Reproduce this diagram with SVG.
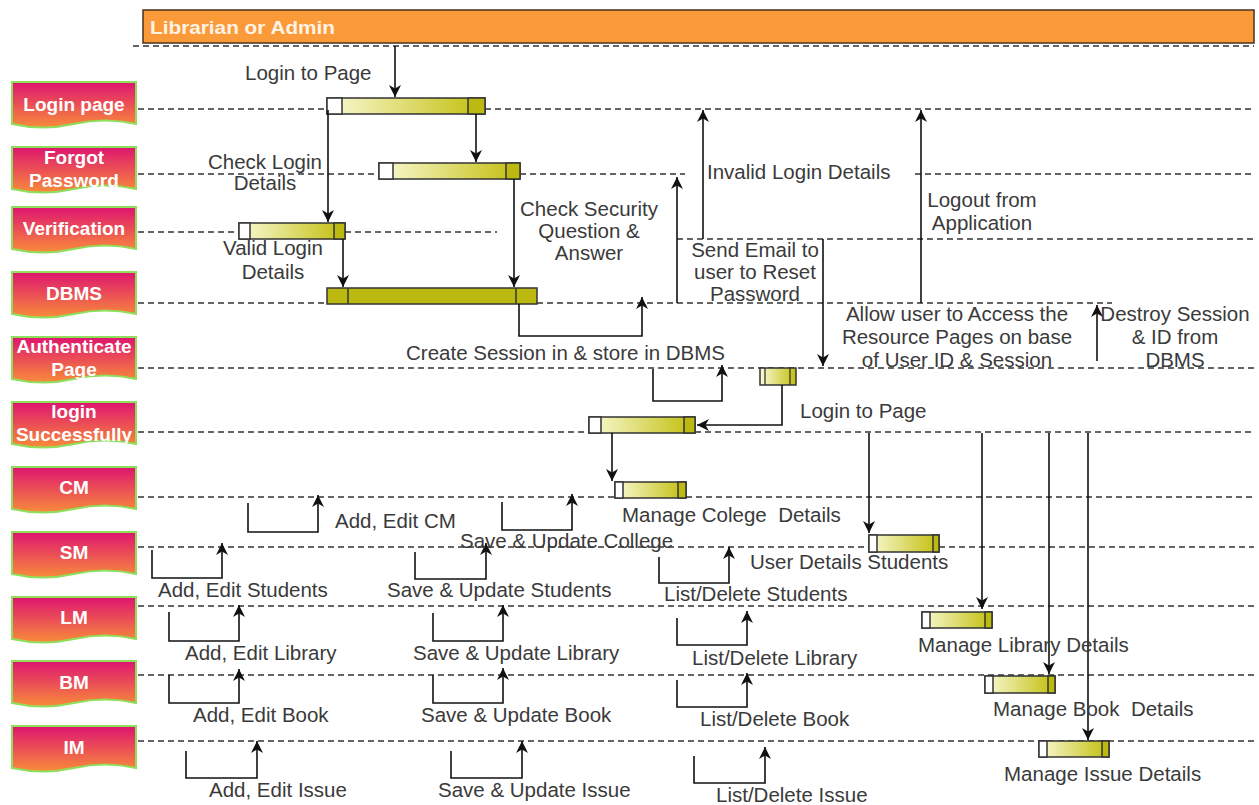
<svg xmlns="http://www.w3.org/2000/svg" width="1259" height="805" viewBox="0 0 1259 805">
<defs>
<linearGradient id="nodeGrad" x1="0" y1="0" x2="0" y2="1">
<stop offset="0" stop-color="#DE1470"/>
<stop offset="1" stop-color="#F88C3A"/>
</linearGradient>
<linearGradient id="barGrad" x1="0" y1="0" x2="1" y2="0">
<stop offset="0" stop-color="#FAFAD6"/>
<stop offset="1" stop-color="#C2BE0C"/>
</linearGradient>
<marker id="arr" viewBox="0 0 10 10" refX="10" refY="5" markerWidth="13" markerHeight="12" markerUnits="userSpaceOnUse" orient="auto">
<path d="M0,0 L10,5 L0,10 L3,5 z" fill="#111"/>
</marker>
<path id="doc" d="M0,0 H124 V42 Q93,35 62,42 Q31,49 0,42 Z"/>
</defs>
<style>
.life{stroke:#333;stroke-width:1.3;stroke-dasharray:6 4;fill:none}
.con{stroke:#111;stroke-width:1.6;fill:none;marker-end:url(#arr)}
.lbl{font-family:"Liberation Sans",Arial,sans-serif;font-size:20.5px;fill:#3a3a3a;white-space:pre}
.mid{text-anchor:middle}
.node{fill:url(#nodeGrad);stroke:#8EE05C;stroke-width:2}
.ntxt{font-family:"Liberation Sans",Arial,sans-serif;font-size:19px;font-weight:bold;fill:#fff;text-anchor:middle}
.bar{fill:url(#barGrad);stroke:#333;stroke-width:1.5}
.bw{fill:#fff;stroke:#333;stroke-width:1.5}
.bd{fill:#BCBA10;stroke:#333;stroke-width:1.5}
</style>
<rect width="1259" height="805" fill="#fff"/>

<g id="header">
<rect x="143" y="10" width="1111" height="33" fill="#FA9A38" stroke="#4a3020" stroke-width="1.5"/>
<text x="150" y="34" font-family="Liberation Sans,Arial,sans-serif" font-size="18" font-weight="bold" fill="#FFF3E6" textLength="185" lengthAdjust="spacingAndGlyphs">Librarian or Admin</text>
</g>

<g id="lifelines">
<path class="life" d="M133,46 H1254"/>
<path class="life" d="M138,109 H327 M485,109 H1254"/>
<path class="life" d="M138,174 H378 M520,174 H685 M915,174 H1254"/>
<path class="life" d="M138,232 H238 M345,232 H497"/>
<path class="life" d="M677,239 H1254"/>
<path class="life" d="M138,303 H327 M537,303 H1112"/>
<path class="life" d="M138,368 H1254"/>
<path class="life" d="M138,432 H589 M695,432 H1254"/>
<path class="life" d="M138,497 H615 M686,497 H1254"/>
<path class="life" d="M138,547 H869 M939,547 H1254"/>
<path class="life" d="M138,606 H1254"/>
<path class="life" d="M138,675 H1254"/>
<path class="life" d="M138,741 H1254"/>
</g>

<g id="node-login-page" transform="translate(12,82)"><use href="#doc" class="node"/><text class="ntxt" x="62" y="29">Login page</text></g>
<g id="node-forgot-password" transform="translate(12,147)"><use href="#doc" class="node"/><text class="ntxt" x="62" y="17">Forgot</text><text class="ntxt" x="62" y="40">Password</text></g>
<g id="node-verification" transform="translate(12,207)"><use href="#doc" class="node"/><text class="ntxt" x="62" y="28">Verification</text></g>
<g id="node-dbms" transform="translate(12,272)"><use href="#doc" class="node"/><text class="ntxt" x="62" y="28">DBMS</text></g>
<g id="node-authenticate-page" transform="translate(12,337)"><use href="#doc" class="node"/><text class="ntxt" x="62" y="16">Authenticate</text><text class="ntxt" x="62" y="39">Page</text></g>
<g id="node-login-successfully" transform="translate(12,402)"><use href="#doc" class="node"/><text class="ntxt" x="62" y="16">login</text><text class="ntxt" x="62" y="39">Successfully</text></g>
<g id="node-cm" transform="translate(12,467)"><use href="#doc" class="node"/><text class="ntxt" x="62" y="27">CM</text></g>
<g id="node-sm" transform="translate(12,532)"><use href="#doc" class="node"/><text class="ntxt" x="62" y="27">SM</text></g>
<g id="node-lm" transform="translate(12,597)"><use href="#doc" class="node"/><text class="ntxt" x="62" y="27">LM</text></g>
<g id="node-bm" transform="translate(12,661)"><use href="#doc" class="node"/><text class="ntxt" x="62" y="28">BM</text></g>
<g id="node-im" transform="translate(12,726)"><use href="#doc" class="node"/><text class="ntxt" x="62" y="28">IM</text></g>

<g id="bar-login"><rect class="bar" x="327" y="98" width="158" height="16"/><rect class="bw" x="327" y="98" width="15" height="16"/><rect class="bd" x="468" y="98" width="17" height="16"/></g>
<g id="bar-forgot"><rect class="bar" x="379" y="163" width="141" height="16"/><rect class="bw" x="379" y="163" width="14" height="16"/><rect class="bd" x="506" y="163" width="14" height="16"/></g>
<g id="bar-verification"><rect class="bar" x="239" y="223" width="106" height="16"/><rect class="bw" x="239" y="223" width="11" height="16"/><rect class="bd" x="334" y="223" width="11" height="16"/></g>
<g id="bar-dbms"><rect class="bd" x="327" y="288" width="210" height="16"/><line x1="348" y1="288" x2="348" y2="304" stroke="#333" stroke-width="1.5"/><line x1="516" y1="288" x2="516" y2="304" stroke="#333" stroke-width="1.5"/></g>
<g id="bar-authenticate"><rect class="bar" x="760" y="368" width="36" height="17"/><line x1="765" y1="368" x2="765" y2="385" stroke="#333" stroke-width="1.3"/><line x1="790" y1="368" x2="790" y2="385" stroke="#333" stroke-width="1.3"/></g>
<g id="bar-success"><rect class="bar" x="589" y="417" width="106" height="16"/><rect class="bw" x="589" y="417" width="12" height="16"/><rect class="bd" x="684" y="417" width="11" height="16"/></g>
<g id="bar-cm"><rect class="bar" x="615" y="482" width="71" height="16"/><rect class="bw" x="615" y="482" width="8" height="16"/><rect class="bd" x="678" y="482" width="8" height="16"/></g>
<g id="bar-sm"><rect class="bar" x="869" y="535" width="70" height="17"/><rect class="bw" x="869" y="535" width="8" height="17"/><rect class="bd" x="933" y="535" width="6" height="17"/></g>
<g id="bar-lm"><rect class="bar" x="922" y="612" width="70" height="16"/><rect class="bw" x="922" y="612" width="8" height="16"/><rect class="bd" x="985" y="612" width="7" height="16"/></g>
<g id="bar-bm"><rect class="bar" x="985" y="676" width="70" height="17"/><rect class="bw" x="985" y="676" width="8" height="17"/><rect class="bd" x="1048" y="676" width="7" height="17"/></g>
<g id="bar-im"><rect class="bar" x="1039" y="741" width="70" height="16"/><rect class="bw" x="1039" y="741" width="8" height="16"/><rect class="bd" x="1102" y="741" width="7" height="16"/></g>

<g id="connectors">
<path class="con" d="M395,46 V97"/>
<path class="con" d="M328,110 V222"/>
<path class="con" d="M476,114 V162"/>
<path class="con" d="M343,239 V287"/>
<path class="con" d="M514,179 V287"/>
<path class="con" d="M519,304 V336 H642 V297"/>
<path class="con" d="M677,303 V177"/>
<path class="con" d="M703,239 V110"/>
<path class="con" d="M823,239 V366"/>
<path class="con" d="M921,303 V110"/>
<path class="con" d="M1097,361 V305"/>
<path class="con" d="M653,369 V401 H722 V365"/>
<path class="con" d="M782,385 V425 H697"/>
<path class="con" d="M612,433 V481"/>
<path class="con" d="M869,433 V533"/>
<path class="con" d="M982,433 V609"/>
<path class="con" d="M1049,433 V674"/>
<path class="con" d="M1088,433 V740"/>
<path class="con" d="M248,503 V532 H318 V495"/>
<path class="con" d="M502,502 V530 H572 V494"/>
<path class="con" d="M152,550 V578 H222 V543"/>
<path class="con" d="M415,552 V579 H486 V543"/>
<path class="con" d="M659,557 V583 H729 V547"/>
<path class="con" d="M169,612 V641 H239 V605"/>
<path class="con" d="M433,613 V641 H503 V605"/>
<path class="con" d="M677,618 V645 H747 V611"/>
<path class="con" d="M169,675 V703 H239 V669"/>
<path class="con" d="M433,675 V703 H503 V668"/>
<path class="con" d="M677,680 V707 H747 V673"/>
<path class="con" d="M186,751 V778 H257 V741"/>
<path class="con" d="M451,751 V778 H522 V741"/>
<path class="con" d="M694,756 V783 H765 V747"/>
</g>

<g id="labels">
<text class="lbl" x="245" y="80">Login to Page</text>
<text class="lbl mid" x="265" y="169">Check Login</text>
<text class="lbl mid" x="265" y="190">Details</text>
<text class="lbl mid" x="273" y="255">Valid Login</text>
<text class="lbl mid" x="273" y="279">Details</text>
<text class="lbl mid" x="589" y="216">Check Security</text>
<text class="lbl mid" x="589" y="238">Question &amp;</text>
<text class="lbl mid" x="589" y="260">Answer</text>
<text class="lbl mid" x="755" y="257">Send Email to</text>
<text class="lbl mid" x="755" y="279">user to Reset</text>
<text class="lbl mid" x="755" y="301">Password</text>
<text class="lbl" x="707" y="179">Invalid Login Details</text>
<text class="lbl mid" x="982" y="207">Logout from</text>
<text class="lbl mid" x="982" y="230">Application</text>
<text class="lbl" x="406" y="360">Create Session in &amp; store in DBMS</text>
<text class="lbl mid" x="957" y="321">Allow user to Access the</text>
<text class="lbl mid" x="957" y="344">Resource Pages on base</text>
<text class="lbl mid" x="957" y="367">of User ID &amp; Session</text>
<text class="lbl mid" x="1175" y="321">Destroy Session</text>
<text class="lbl mid" x="1175" y="344">&amp; ID from</text>
<text class="lbl mid" x="1175" y="367">DBMS</text>
<text class="lbl" x="800" y="418">Login to Page</text>
<text class="lbl" x="622" y="522">Manage Colege  Details</text>
<text class="lbl" x="335" y="528">Add, Edit CM</text>
<text class="lbl" x="460" y="548">Save &amp; Update College</text>
<text class="lbl" x="750" y="569">User Details Students</text>
<text class="lbl" x="158" y="597">Add, Edit Students</text>
<text class="lbl" x="387" y="597">Save &amp; Update Students</text>
<text class="lbl" x="664" y="601">List/Delete Students</text>
<text class="lbl" x="918" y="652">Manage Library Details</text>
<text class="lbl" x="185" y="660">Add, Edit Library</text>
<text class="lbl" x="413" y="660">Save &amp; Update Library</text>
<text class="lbl" x="692" y="665">List/Delete Library</text>
<text class="lbl" x="193" y="722">Add, Edit Book</text>
<text class="lbl" x="421" y="722">Save &amp; Update Book</text>
<text class="lbl" x="700" y="726">List/Delete Book</text>
<text class="lbl" x="993" y="716">Manage Book  Details</text>
<text class="lbl" x="209" y="797">Add, Edit Issue</text>
<text class="lbl" x="438" y="797">Save &amp; Update Issue</text>
<text class="lbl" x="716" y="802">List/Delete Issue</text>
<text class="lbl" x="1004" y="781">Manage Issue Details</text>
</g>
</svg>
